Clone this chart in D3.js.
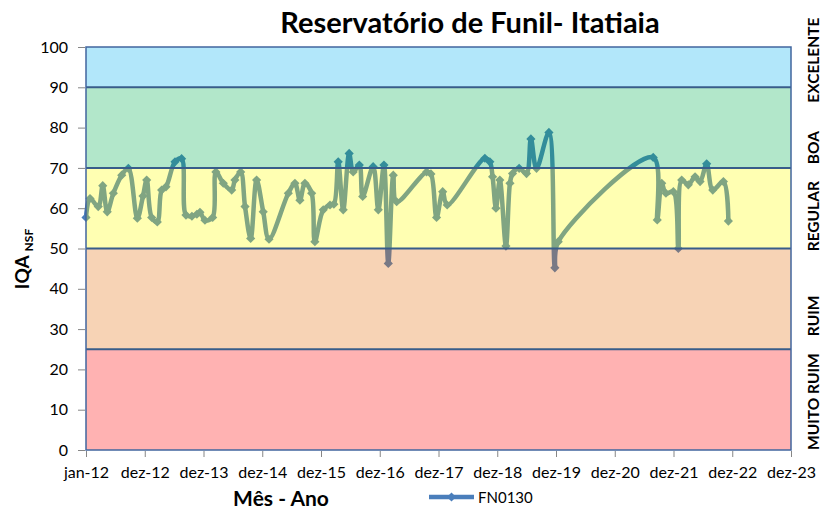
<!DOCTYPE html>
<html>
<head>
<meta charset="utf-8">
<script src="https://cdn.jsdelivr.net/npm/d3@7"></script>
<style>
body { margin: 0; background: #fff; }
text { font-family: Lato, "Open Sans", sans-serif; fill: #000; }
</style>
</head>
<body>
<div id="chart"></div>
<script>
// dados (FN0130)
var datas = ["2012-01-01","2012-01-26","2012-03-17","2012-04-14","2012-05-12","2012-06-19","2012-08-10","2012-09-20",
  "2012-11-15","2012-12-20","2013-01-12","2013-02-12","2013-03-19","2013-04-15","2013-05-12","2013-07-07",
  "2013-08-17","2013-09-13","2013-10-20","2013-11-20","2013-12-09","2014-01-09","2014-02-26","2014-03-18",
  "2014-05-03","2014-06-24","2014-07-14","2014-08-19","2014-09-15","2014-10-20","2014-11-26","2015-01-06",
  "2015-02-11","2015-06-11","2015-07-22","2015-08-22","2015-09-22","2015-11-03","2015-11-23","2016-01-14",
  "2016-02-25","2016-03-20","2016-04-16","2016-05-17","2016-06-23","2016-07-18","2016-08-25","2016-09-15",
  "2016-11-19","2016-12-21","2017-01-25","2017-02-21","2017-03-24","2017-04-14","2017-10-17","2017-11-13",
  "2017-12-18","2018-01-25","2018-02-22","2018-10-14","2018-11-14","2018-12-01","2018-12-22","2019-01-15",
  "2019-02-22","2019-03-19","2019-04-04","2019-05-15","2019-06-30","2019-07-27","2019-08-31","2019-11-16",
  "2019-12-23","2020-01-13","2021-08-25","2021-09-19","2021-10-17","2021-11-12","2021-12-28","2022-01-28",
  "2022-02-18","2022-03-31","2022-05-12","2022-06-12","2022-07-23","2022-08-30","2022-11-04","2022-12-05"];

var iqa = [57.7, 62.4, 60.4, 65.6, 59.1, 63.7, 68.2, 69.9,
  57.5, 63.0, 67.0, 57.7, 56.6, 64.5, 65.3, 71.5,
  72.3, 58.3, 58.0, 58.5, 59.0, 57.0, 57.7, 69.0,
  66.2, 64.5, 67.0, 69.0, 60.4, 52.5, 67.0, 59.1,
  52.3, 63.7, 66.2, 62.0, 66.2, 63.7, 51.7, 59.6,
  60.8, 61.0, 71.5, 59.6, 73.6, 69.0, 70.7, 62.9,
  70.3, 59.6, 70.7, 46.3, 68.2, 61.6, 69.0, 68.5,
  57.7, 64.1, 60.8, 72.4, 71.5, 67.8, 60.0, 67.0,
  50.6, 66.2, 68.6, 69.9, 68.6, 77.2, 69.9, 78.8,
  45.2, 51.7, 72.6, 57.1, 66.2, 63.7, 64.1, 50.0,
  67.0, 65.8, 67.8, 66.6, 71.0, 64.5, 66.6, 56.8];

var serie = "FN0130";

// faixas de qualidade
var faixasNome = ["MUITO RUIM", "RUIM", "REGULAR", "BOA", "EXCELENTE"];
var faixasDe   = [0, 25, 50, 70, 90];
var faixasAte  = [25, 50, 70, 90, 100];

var yTicks = [0, 10, 20, 30, 40, 50, 60, 70, 80, 90, 100];
var xLabels = ["jan-12","dez-12","dez-13","dez-14","dez-15","dez-16","dez-17","dez-18","dez-19","dez-20","dez-21","dez-22","dez-23"];

var margin = {top: 47, right: 34, bottom: 59, left: 86},
    width = 825 - margin.left - margin.right,
    height = 509 - margin.top - margin.bottom;

var parse = d3.timeParse("%Y-%m-%d");
var inicio = parse("2012-01-01");
var xTickDates = xLabels.map(function(d, i) { return d3.timeDay.offset(inicio, 365 * i); });

var data = datas.map(function(d, i) { return {data: parse(d), v: iqa[i]}; });
var faixas = faixasNome.map(function(n, i) { return {nome: n, de: faixasDe[i], ate: faixasAte[i]}; });

var x = d3.scaleTime().domain([inicio, xTickDates[xTickDates.length - 1]]).range([0, width]);
var y = d3.scaleLinear().domain([0, 100]).range([height, 0]);
var cor = d3.scaleOrdinal().domain(faixasNome)
    .range(["#ff0000", "#e46c0a", "#ffff00", "#00b050", "#00b0f0"]);

var svg = d3.select("#chart").append("svg")
    .attr("width", 825)
    .attr("height", 509);

var g = svg.append("g")
    .attr("transform", "translate(" + margin.left + "," + margin.top + ")");

var azul = "#4a7ebb";

// linha suavizada (desenhada por baixo das faixas transparentes)
var line = d3.line()
    .x(function(d) { return x(d.data); })
    .y(function(d) { return y(d.v); })
    .curve(d3.curveCatmullRom.alpha(0.5));

g.append("path")
  .datum(data)
  .attr("fill", "none")
  .attr("stroke", azul)
  .attr("stroke-width", 4.5)
  .attr("stroke-linejoin", "round")
  .attr("d", line);

var diamante = d3.symbol().type(d3.symbolSquare).size(42);

g.selectAll(".ponto")
  .data(data)
  .enter().append("path")
  .attr("class", "ponto")
  .attr("d", diamante)
  .attr("fill", azul)
  .attr("transform", function(d) { return "translate(" + x(d.data) + "," + y(d.v) + ") rotate(45)"; });

// faixas
g.selectAll(".faixa")
  .data(faixas)
  .enter().append("rect")
  .attr("class", "faixa")
  .attr("x", 0)
  .attr("width", width)
  .attr("y", function(d) { return y(d.ate); })
  .attr("height", function(d) { return y(d.de) - y(d.ate); })
  .attr("fill", function(d) { return cor(d.nome); })
  .attr("fill-opacity", 0.3);

g.selectAll(".divisa")
  .data(faixasDe.slice(1))
  .enter().append("line")
  .attr("class", "divisa")
  .attr("x1", 0)
  .attr("x2", width)
  .attr("y1", function(d) { return y(d); })
  .attr("y2", function(d) { return y(d); })
  .attr("stroke", "#385d8a")
  .attr("stroke-width", 2);

g.append("rect")
  .attr("width", width)
  .attr("height", height)
  .attr("fill", "none")
  .attr("stroke", "#41669e")
  .attr("stroke-width", 1.5);

// eixos
var yAxis = g.append("g")
  .call(d3.axisLeft(y).tickValues(yTicks).tickSize(7).tickPadding(11));
yAxis.select(".domain").remove();
yAxis.selectAll("line").attr("stroke", "#868686").attr("transform", "translate(-1,0)");
yAxis.selectAll("text").style("font-size", "16px").attr("fill", "#000");

var xAxis = g.append("g")
  .attr("transform", "translate(0," + height + ")")
  .call(d3.axisBottom(x).tickValues(xTickDates).tickSize(6)
    .tickFormat(function(d, i) { return xLabels[i]; }));
xAxis.select(".domain").remove();
xAxis.selectAll("line").attr("stroke", "#868686").attr("transform", "translate(0,1)");
xAxis.selectAll("text").style("font-size", "16px").attr("y", 28).attr("dy", null).attr("fill", "#000");

// rotulos das faixas
svg.selectAll(".nomeFaixa")
  .data(faixas)
  .enter().append("text")
  .attr("class", "nomeFaixa")
  .attr("transform", function(d) {
      var yy = margin.top + (y(d.de) + y(d.ate)) / 2;
      if (d.nome === "MUITO RUIM") yy += 2;
      if (d.nome === "EXCELENTE") yy -= 7;
      if (d.nome === "BOA") yy += 20;
      if (d.nome === "REGULAR") yy += 8;
      if (d.nome === "RUIM") yy += 17;
      return "translate(819," + yy + ") rotate(-90)";
  })
  .attr("text-anchor", "middle")
  .style("font-size", "15.5px")
  .style("font-weight", "bold")
  .text(function(d) { return d.nome; });

// titulos
svg.append("text")
  .attr("x", 470)
  .attr("y", 33)
  .attr("text-anchor", "middle")
  .style("font-size", "29px")
  .style("font-weight", "bold")
  .text("Reservatório de Funil- Itatiaia");

svg.append("text")
  .attr("x", 281)
  .attr("y", 506)
  .attr("text-anchor", "middle")
  .style("font-size", "21px")
  .style("font-weight", "bold")
  .text("Mês - Ano");

var yTitulo = svg.append("text")
  .attr("transform", "translate(29,259) rotate(-90)")
  .attr("text-anchor", "middle")
  .style("font-weight", "bold");
yTitulo.append("tspan").style("font-size", "19px").text("IQA ");
yTitulo.append("tspan").style("font-size", "12px").attr("dy", 4).text("NSF");

// legenda
var leg = svg.append("g").attr("transform", "translate(429,497)");
leg.append("line")
  .attr("x1", 0).attr("x2", 45)
  .attr("stroke", azul).attr("stroke-width", 4.5);
leg.append("path")
  .attr("d", diamante)
  .attr("fill", azul)
  .attr("transform", "translate(22.5,0) rotate(45)");
leg.append("text")
  .attr("x", 49)
  .attr("y", 5.5)
  .style("font-size", "15px")
  .text(serie);
</script>
</body>
</html>
